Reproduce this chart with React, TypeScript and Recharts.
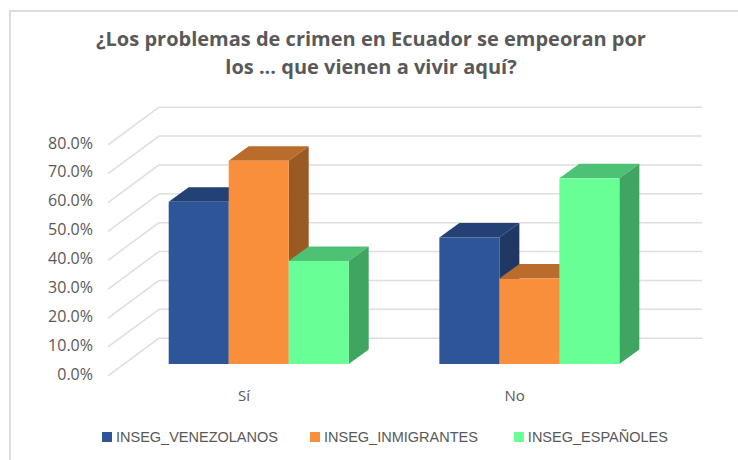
import { Bar, BarChart, CartesianGrid, Legend, XAxis, YAxis } from "recharts";

const categories = ["Sí", "No"];
const venezolanos = [56.2, 43.8];
const inmigrantes = [70.4, 29.6];
const espanoles = [35.7, 64.3];
const yTicks = [0, 10, 20, 30, 40, 50, 60, 70, 80];

const seriesNames = ["INSEG_VENEZOLANOS", "INSEG_INMIGRANTES", "INSEG_ESPAÑOLES"];
const chartData = categories.map((c, i) => ({
  name: c,
  [seriesNames[0]]: venezolanos[i],
  [seriesNames[1]]: inmigrantes[i],
  [seriesNames[2]]: espanoles[i],
}));

// depth of the bars, in px
const BAR_DX = 20;
const BAR_DY = 14.5;
const TEXT = "#595959";
const GRID = "#DEDEDE";

function Box3D({ x, y, width, height, face, top, side }: any) {
  const r = x + width;
  const b = y + height;
  return (
    <g>
      <polygon points={`${x},${y} ${x + BAR_DX},${y - BAR_DY} ${r + BAR_DX},${y - BAR_DY} ${r},${y}`} fill={top} />
      <polygon points={`${r},${y} ${r + BAR_DX},${y - BAR_DY} ${r + BAR_DX},${b - BAR_DY} ${r},${b}`} fill={side} />
      <rect x={x} y={y} width={width} height={height} fill={face} />
    </g>
  );
}

// side wall + back wall line for one value, grid is the only layer painted under the bars
function wallLine({ y1, key }: any) {
  return (
    <g key={key}>
      <line x1={108} y1={y1 + 11.8} x2={159} y2={y1 - 25.8} stroke={GRID} strokeWidth={1.5} />
      <line x1={159} y1={y1 - 25.8} x2={702} y2={y1 - 25.8} stroke={GRID} strokeWidth={1.5} />
    </g>
  );
}

function valueTick({ y, payload }: any) {
  return (
    <text x={93} y={y + 15.5} textAnchor="end" fontSize={16} fontFamily="Open Sans" fill={TEXT}>
      {payload.value.toFixed(1)}%
    </text>
  );
}

function categoryTick({ x, payload }: any) {
  return (
    <text x={x - 15} y={401} textAnchor="middle" fontSize={15} fontFamily="Open Sans" fill={TEXT}>
      {payload.value}
    </text>
  );
}

const legendColors = ["#2E5597", "#F98F3B", "#69FF97"];
const legendGaps = [102, 32, 36];

function ChartLegend() {
  return (
    <div style={{ display: "flex", fontFamily: "Liberation Sans", fontSize: 14.5, color: TEXT }}>
      {seriesNames.map((n, i) => (
        <span key={n} style={{ display: "flex", alignItems: "center", marginLeft: legendGaps[i], whiteSpace: "nowrap" }}>
          <span style={{ width: 10, height: 10, background: legendColors[i], marginRight: 4 }} />
          {n}
        </span>
      ))}
    </div>
  );
}

export default function App() {
  return (
    <div style={{ position: "absolute", left: 0, top: 0, width: 738, height: 460, background: "#fff", overflow: "hidden" }}>
      <div style={{ position: "absolute", left: 9, top: 10, width: 729, height: 450, borderLeft: "2px solid #DDD", borderTop: "2px solid #DDD" }} />
      <div
        style={{
          position: "absolute",
          left: 0,
          top: 25,
          width: 742,
          textAlign: "center",
          fontFamily: "Open Sans",
          fontWeight: 700,
          fontSize: 20,
          lineHeight: "28px",
          color: TEXT,
        }}
      >
        ¿Los problemas de crimen en Ecuador se empeoran por
        <br />
        los ... que vienen a vivir aquí?
      </div>
      <BarChart
        width={738}
        height={460}
        data={chartData}
        margin={{ top: 133, right: 73, bottom: 66, left: 93.7 }}
        barCategoryGap={45}
        barGap={0}
        style={{ position: "absolute", left: 0, top: 0 }}
      >
        <CartesianGrid vertical={false} horizontal={wallLine} syncWithTicks />
        <XAxis dataKey="name" height={30} axisLine={false} tickLine={false} tick={categoryTick} />
        <YAxis width={30} domain={[0, 80]} ticks={yTicks} axisLine={false} tickLine={false} tick={valueTick} interval={0} />
        <Legend verticalAlign="middle" content={<ChartLegend />} wrapperStyle={{ left: 0, top: 429, width: 738 }} />
        <Bar
          dataKey={seriesNames[0]}
          isAnimationActive={false}
          fill="#2E5597"
          shape={(p: any) => <Box3D {...p} face="#2E5597" top="#234175" side="#1F3864" />}
        />
        <Bar
          dataKey={seriesNames[1]}
          isAnimationActive={false}
          fill="#F98F3B"
          shape={(p: any) => <Box3D {...p} face="#F98F3B" top="#B96C2B" side="#9A5A23" />}
        />
        <Bar
          dataKey={seriesNames[2]}
          isAnimationActive={false}
          fill="#69FF97"
          shape={(p: any) => <Box3D {...p} face="#69FF97" top="#4EC274" side="#41A562" />}
        />
      </BarChart>
    </div>
  );
}
